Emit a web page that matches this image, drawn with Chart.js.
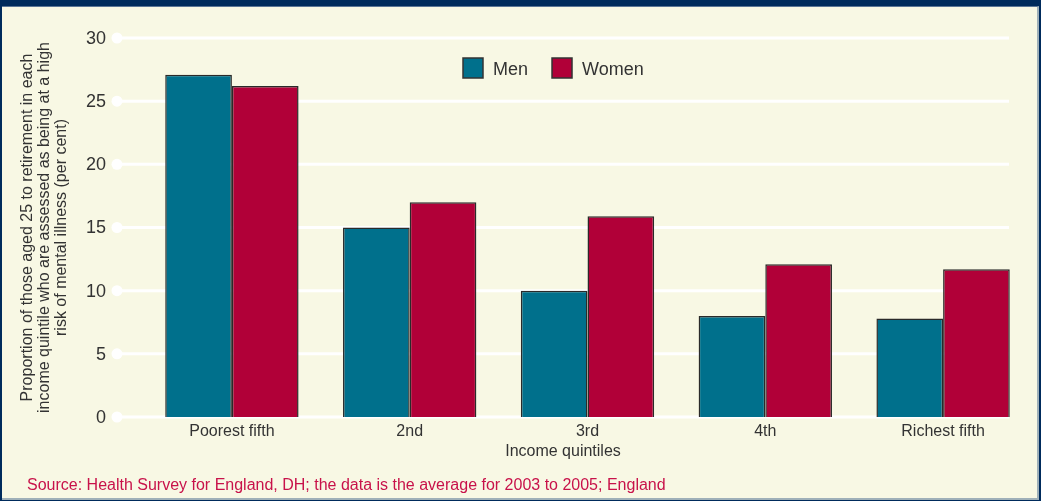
<!DOCTYPE html>
<html>
<head>
<meta charset="utf-8">
<script src="https://cdn.jsdelivr.net/npm/chart.js@4.4.1/dist/chart.umd.min.js"></script>
<style>
  html, body { margin: 0; padding: 0; background: #002b5c; }
  #frame {
    position: absolute; left: 2px; top: 6px; width: 1035px; height: 491px;
    background: #f8f8e4; border-top: 1px solid #5b7696;
    border-right: 2px solid #9fb0b8; border-bottom: 2px solid #9fb0b8;
  }
  #chart { position: absolute; left: 0; top: 0; }
</style>
</head>
<body>
<div id="frame"></div>
<canvas id="chart" width="1041" height="501"></canvas>
<script>
const categories = ['Poorest fifth', '2nd', '3rd', '4th', 'Richest fifth'];
const menValues = [27.1, 15.0, 10.0, 8.0, 7.8];
const womenValues = [26.2, 17.0, 15.9, 12.1, 11.7];
const yTicks = [0, 5, 10, 15, 20, 25, 30];
const yTitleLines = [
    'Proportion of those aged 25 to retirement in each',
    'income quintile who are assessed as being at a high',
    'risk of mental illness (per cent)'
];
const xTitle = 'Income quintiles';
const sourceText = 'Source: Health Survey for England, DH; the data is the average for 2003 to 2005; England';

const FONT = '"Liberation Sans", Arial, sans-serif';
const TEAL = '#00708c';
const CRIMSON = '#b10038';
// gridlines start a bit left of the category axis and stop short of its right end
const GRID_LEFT_EXTRA = 26;
const GRID_RIGHT_SHORT = 23;

const decorations = {
    id: 'decorations',
    beforeDatasetsDraw(chart) {
        const ctx = chart.ctx;
        const y = chart.scales.y;
        const x0 = chart.chartArea.left - GRID_LEFT_EXTRA;
        const x1 = chart.chartArea.right - GRID_RIGHT_SHORT;
        ctx.save();
        ctx.lineWidth = 3;
        ctx.font = '18px ' + FONT;
        ctx.textAlign = 'right';
        ctx.textBaseline = 'middle';
        yTicks.forEach(v => {
            const py = y.getPixelForValue(v);
            ctx.strokeStyle = '#ffffff';
            ctx.fillStyle = '#ffffff';
            ctx.beginPath();
            ctx.moveTo(x0, py);
            ctx.lineTo(x1, py);
            ctx.stroke();
            ctx.beginPath();
            ctx.arc(x0, py, 5.5, 0, Math.PI * 2);
            ctx.fill();
            ctx.fillStyle = '#333333';
            ctx.fillText(String(v), x0 - 11, py + 1);
        });
        ctx.restore();
    },
    afterDraw(chart) {
        const ctx = chart.ctx;
        const area = chart.chartArea;
        const y = chart.scales.y;
        ctx.save();
        ctx.fillStyle = '#333333';
        ctx.font = '16px ' + FONT;
        ctx.textAlign = 'center';
        ctx.textBaseline = 'middle';
        ctx.translate(45, (y.getPixelForValue(0) + y.getPixelForValue(30)) / 2);
        ctx.rotate(-Math.PI / 2);
        yTitleLines.forEach((line, i) => ctx.fillText(line, 0, (i - 1) * 17));
        ctx.restore();

        ctx.save();
        ctx.fillStyle = '#333333';
        ctx.font = '16px ' + FONT;
        ctx.textAlign = 'center';
        ctx.textBaseline = 'middle';
        ctx.fillText(xTitle, (area.left - GRID_LEFT_EXTRA + area.right - GRID_RIGHT_SHORT) / 2, 452);

        ctx.fillStyle = '#c8124a';
        ctx.font = '16px ' + FONT;
        ctx.textAlign = 'left';
        ctx.fillText(sourceText, 27, 486);

        ctx.font = '18px ' + FONT;
        ctx.lineWidth = 1.5;
        ctx.strokeStyle = '#333333';
        let x = 463;
        chart.data.datasets.forEach(ds => {
            ctx.fillStyle = ds.backgroundColor;
            ctx.fillRect(x, 58, 20, 20);
            ctx.strokeRect(x, 58, 20, 20);
            ctx.fillStyle = '#333333';
            ctx.textAlign = 'left';
            ctx.fillText(ds.label, x + 30, 70);
            x += 30 + ctx.measureText(ds.label).width + 24;
        });
        ctx.restore();
    }
};

new Chart(document.getElementById('chart'), {
    type: 'bar',
    data: {
        labels: categories,
        datasets: [
            { label: 'Men', data: menValues, backgroundColor: TEAL, borderColor: '#2a2a2a', borderWidth: 1.5 },
            { label: 'Women', data: womenValues, backgroundColor: CRIMSON, borderColor: '#2a2a2a', borderWidth: 1.5 }
        ]
    },
    options: {
        responsive: false,
        animation: false,
        layout: { padding: { left: 0, top: 38, right: 9, bottom: 0 } },
        datasets: { bar: { categoryPercentage: 0.75, barPercentage: 1 } },
        plugins: { legend: { display: false }, tooltip: { enabled: false } },
        scales: {
            x: {
                grid: { display: false, drawTicks: false },
                border: { display: false },
                ticks: { color: '#333333', font: { family: FONT, size: 16 }, padding: 5 },
                afterFit(scale) { scale.height = 84; }
            },
            y: {
                min: 0, max: 30,
                afterBuildTicks(scale) { scale.ticks = yTicks.map(v => ({ value: v })); },
                grid: { display: false, drawTicks: false },
                border: { display: false },
                ticks: { display: false, padding: 0 },
                afterFit(scale) { scale.width = 143; }
            }
        }
    },
    plugins: [decorations]
});
</script>
</body>
</html>
